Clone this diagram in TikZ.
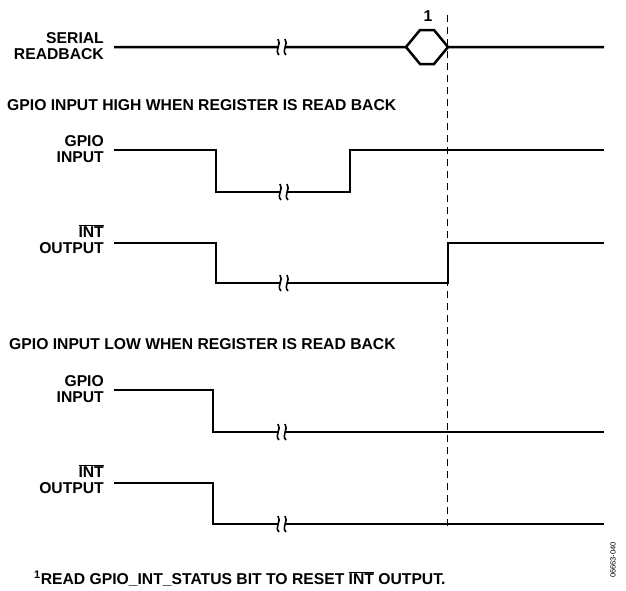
\documentclass[tikz,border=0pt]{standalone}
\usepackage{fontspec}
\setmainfont{Liberation Sans}
\usepackage{tikz}
\newcommand{\intbar}{$\overline{\hbox{INT}}$}

\tikzset{
  brk/.pic={
    \fill[white] (-3,-1.8) rectangle (3,1.8);
    \draw[line width=1.6pt] (-4,-8) .. controls (0,-3) and (-8,3) .. (-3,8);
    \draw[line width=1.6pt] (3,-8) .. controls (7,-3) and (-1,3) .. (4,8);
  }
}

\begin{document}
\begin{tikzpicture}[x=1pt, y=-1pt,
  sig/.style={line width=2.5pt},
  lbl/.style={anchor=east, align=right, inner sep=0pt, font=\fontsize{15.7}{16.5}\selectfont\bfseries},
  hdr/.style={anchor=base west, inner sep=0pt, font=\fontsize{15.7}{16.5}\selectfont\bfseries}]
\useasboundingbox (0,0) rectangle (626,590);

% serial readback
\node[lbl] (serlbl) at (104,46) {SERIAL\\READBACK};
\draw[sig] (114,47) -- (406,47) -- (420,30) -- (434,30) -- (448,47) -- (604,47);
\draw[sig] (406,47) -- (420,64) -- (434,64) -- (448,47);
\pic (b0) at (282,47) {brk};
\node[hdr, anchor=base] (note) at (428,21) {1};
\draw[dashed, line width=1.1pt, dash pattern=on 7pt off 5pt] (447.5,15) -- (447.5,527);

% gpio high when read back
\node[hdr] (hihdr) at (7,110) {GPIO INPUT HIGH WHEN REGISTER IS READ BACK};
\node[lbl] (gpio1) at (104,149) {GPIO\\INPUT};
\draw[sig] (114,150) -- (216,150) -- (216,192) -- (350,192) -- (350,150) -- (604,150);
\pic (b1) at (284,192) {brk};
\node[lbl] (int1) at (104,239) {\intbar\\OUTPUT};
\draw[sig] (114,243) -- (216,243) -- (216,283) -- (448,283) -- (448,243) -- (604,243);
\pic (b2) at (284,283) {brk};

% gpio low when read back
\node[hdr] (lohdr) at (9,349) {GPIO INPUT LOW WHEN REGISTER IS READ BACK};
\node[lbl] (gpio2) at (104,389) {GPIO\\INPUT};
\draw[sig] (114,390) -- (213,390) -- (213,432) -- (604,432);
\pic (b3) at (282,432) {brk};
\node[lbl] (int2) at (104,479) {\intbar\\OUTPUT};
\draw[sig] (114,483) -- (213,483) -- (213,524) -- (604,524);
\pic (b4) at (282,524) {brk};

% footnote
\node[hdr] (foot) at (34,584) {\textsuperscript{1}READ GPIO\_INT\_STATUS BIT TO RESET \intbar{} OUTPUT.};
\node[rotate=90, inner sep=0pt, font=\fontsize{7.5}{8}\selectfont] (fig) at (613,560) {06663-040};
\end{tikzpicture}
\end{document}
